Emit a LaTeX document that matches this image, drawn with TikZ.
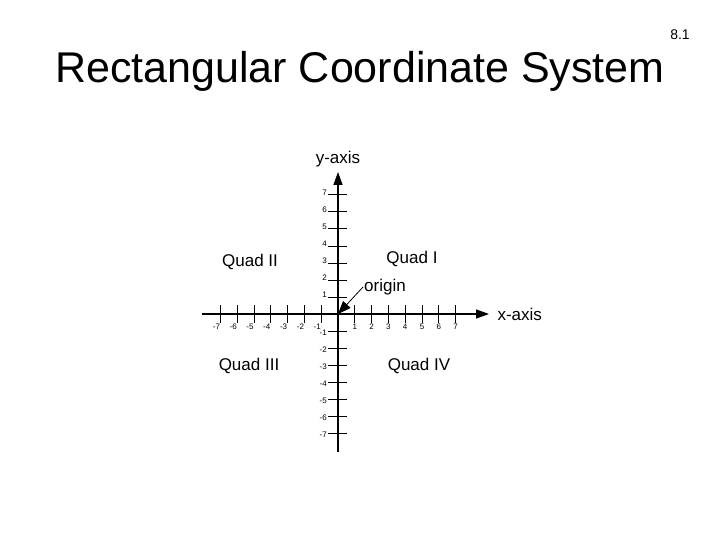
\documentclass[tikz,border=0pt]{standalone}
\usepackage{fontspec}
\setmainfont{Liberation Sans}
\usetikzlibrary{positioning, arrows.meta}

\begin{document}
\begin{tikzpicture}[x=1pt, y=-1pt, font=\fontsize{17}{20}\selectfont,
    axis/.style={line width=1.4pt, -{Triangle[length=13pt, width=9pt]}},
    tickmark/.style={line width=1pt},
    ticklabel/.style={font=\fontsize{8}{9}\selectfont, inner sep=1pt},
    quadlabel/.style={inner sep=0pt}]
  \useasboundingbox (0,0) rectangle (720,540);
  % title and slide number
  \node[font=\fontsize{14}{16}\selectfont] (slideno) at (680,35) {8.1};
  \node[font=\fontsize{43}{50}\selectfont, anchor=base] (title) at (360,83) {Rectangular Coordinate System};
  % axes
  \coordinate (o) at (338,314);
  \coordinate (xl) at (202,314);
  \coordinate (xr) at (489,314);
  \coordinate (yb) at (338,452);
  \coordinate (yt) at (338,172);
  \draw[axis] (xl) -- (xr);
  \draw[axis] (yb) -- (yt);
  \node[right=5pt of xr] (xname) {x-axis};
  \node[above=1pt of yt] (yname) {y-axis};
  % ticks and numbers
  \foreach \i in {1,...,7} {
    \draw[tickmark] (338+\i*16.8,305) -- (338+\i*16.8,323);
    \draw[tickmark] (338-\i*16.8,305) -- (338-\i*16.8,323);
    \node[ticklabel, anchor=north] (xp\i) at (338+\i*16.8,323) {\i};
    \node[ticklabel, anchor=north] (xm\i) at (334-\i*16.8,323) {-\i};
    \draw[tickmark] (328,314-\i*17) -- (347,314-\i*17);
    \draw[tickmark] (328,314+\i*17) -- (347,314+\i*17);
    \node[ticklabel, anchor=east] (yp\i) at (328,312-\i*17) {\i};
    \node[ticklabel, anchor=east] (ym\i) at (328,316+\i*17) {-\i};
  }
  % quadrants
  \node[quadlabel] (q1) at (412,259) {Quad I};
  \node[quadlabel] (q2) at (250,262) {Quad II};
  \node[quadlabel] (q3) at (249,366) {Quad III};
  \node[quadlabel] (q4) at (419,366) {Quad IV};
  % origin
  \node[inner sep=1pt] (orig) at (385,287) {origin};
  \draw[line width=0.8pt, -{Triangle[length=13pt, width=10pt]}] (orig.west) -- (o);
\end{tikzpicture}
\end{document}
